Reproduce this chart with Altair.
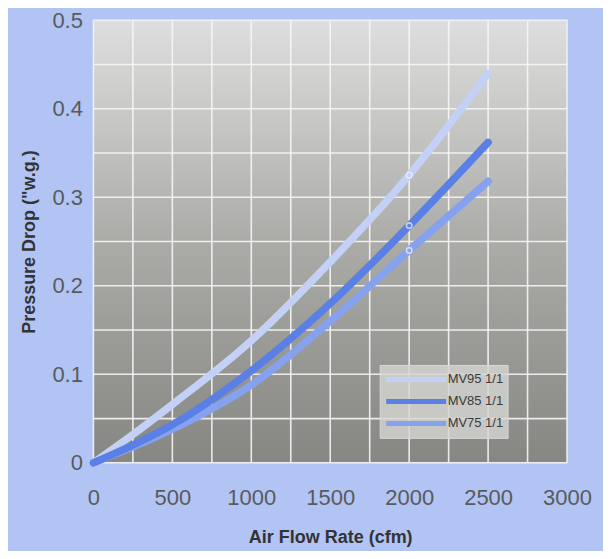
import altair as alt
import pandas as pd

# ---- data ----
flow = [0, 250, 500, 1000, 1500, 2000, 2500]
mv95 = [0, 0.032, 0.066, 0.138, 0.227, 0.325, 0.440]
mv85 = [0, 0.020, 0.043, 0.104, 0.180, 0.268, 0.362]
mv75 = [0, 0.018, 0.038, 0.088, 0.160, 0.240, 0.318]
series_names = ["MV95 1/1", "MV85 1/1", "MV75 1/1"]
series_colors = ["#c4d1f7", "#5a80e6", "#86a2ef"]
draw_order = ["MV95 1/1", "MV75 1/1", "MV85 1/1"]
marker_flow = [2000]

x_ticks = [0, 500, 1000, 1500, 2000, 2500, 3000]
y_ticks = [0, 0.1, 0.2, 0.3, 0.4, 0.5]
grid_x = [250, 500, 750, 1000, 1250, 1500, 1750, 2000, 2250, 2500, 2750]
grid_y = [0.05, 0.1, 0.15, 0.2, 0.25, 0.3, 0.35, 0.4, 0.45]
x_domain = [0, 3000]
y_domain = [0, 0.5]

rows = []
for name, vals in zip(series_names, [mv95, mv85, mv75]):
    for f, v in zip(flow, vals):
        rows.append({"flow": f, "dp": v, "series": name})
df = pd.DataFrame(rows)

xscale = alt.Scale(domain=x_domain, nice=False, zero=False)
yscale = alt.Scale(domain=y_domain, nice=False, zero=False)

FONT = "Liberation Sans"
xaxis = alt.Axis(values=x_ticks, format="d", grid=False, ticks=False, domain=False,
                 labelFlush=False, labelOverlap=False, labelBound=False,
                 labelPadding=25, labelFontSize=22, labelColor="#5a5a5a", labelFont=FONT,
                 title="Air Flow Rate (cfm)", titleFontSize=18, titleFont=FONT,
                 titleFontWeight="bold", titleColor="#333333", titlePadding=20)
yaxis = alt.Axis(values=y_ticks, format="~g", grid=False, ticks=False, domain=False,
                 labelFlush=False, labelOverlap=False, labelBound=False,
                 labelPadding=11, labelFontSize=22, labelColor="#5a5a5a", labelFont=FONT,
                 title='Pressure Drop ("w.g.)', titleFontSize=18, titleFont=FONT,
                 titleFontWeight="bold", titleColor="#333333", titlePadding=13)


def X(field):
    return alt.X(field, type="quantitative", scale=xscale, axis=xaxis)


def Y(field):
    return alt.Y(field, type="quantitative", scale=yscale, axis=yaxis)


gradient = alt.LinearGradient(
    gradient="linear",
    stops=[alt.GradientStop(color="#dedede", offset=0),
           alt.GradientStop(color="#ababa8", offset=0.5),
           alt.GradientStop(color="#868782", offset=1)],
    x1=0, x2=0, y1=0, y2=1,
)

bg_df = pd.DataFrame({"x0": [x_domain[0]], "x1": [x_domain[1]],
                      "y0": [y_domain[0]], "y1": [y_domain[1]]})
bg = alt.Chart(bg_df).mark_rect(fill=gradient, stroke="#eef0f4", strokeWidth=1.5).encode(
    x=X("x0"), x2="x1", y=Y("y0"), y2="y1")

gv = alt.Chart(pd.DataFrame({"gx": grid_x})).mark_rule(
    color="#f6f6f6", strokeWidth=1.6, opacity=0.9).encode(x=X("gx"))
gh = alt.Chart(pd.DataFrame({"gy": grid_y})).mark_rule(
    color="#f6f6f6", strokeWidth=1.6, opacity=0.9).encode(y=Y("gy"))

legend = alt.Legend(
    title=None, orient="none", legendX=286.5, legendY=345,
    fillColor="rgba(212,212,209,0.82)", strokeColor="#d8d8d8", padding=4,
    labelFont="Liberation Sans Narrow, Liberation Sans, Arial", labelFontSize=13,
    labelColor="#3a3a3a", symbolType="M-1,0H6.5", symbolSize=256,
    symbolStrokeWidth=5, labelOffset=43, rowPadding=1,
)
color = alt.Color("series:N", scale=alt.Scale(domain=series_names, range=series_colors),
                  legend=legend)

line_layers = []
for name in draw_order:
    line_layers.append(
        alt.Chart(df).transform_filter(alt.datum.series == name).mark_line(
            strokeWidth=7.5, strokeCap="round", strokeJoin="round", interpolate="monotone"
        ).encode(x=X("flow"), y=Y("dp"), color=color)
    )

markers = alt.Chart(df).transform_filter(
    alt.FieldOneOfPredicate(field="flow", oneOf=marker_flow)
).mark_point(shape="circle", filled=False, stroke="#f2f5ff", strokeWidth=1.6, size=30).encode(
    x=X("flow"), y=Y("dp"))

chart = alt.layer(bg, gv, gh, *line_layers, markers).properties(
    width=474, height=443,
    autosize=alt.AutoSizeParams(type="none"),
    padding={"left": 85.5, "top": 12, "right": 36, "bottom": 88},
).configure(background="#b1c4f4").configure_view(stroke=None)

chart.save("out.html", embed_options={"renderer": "svg", "actions": False})
